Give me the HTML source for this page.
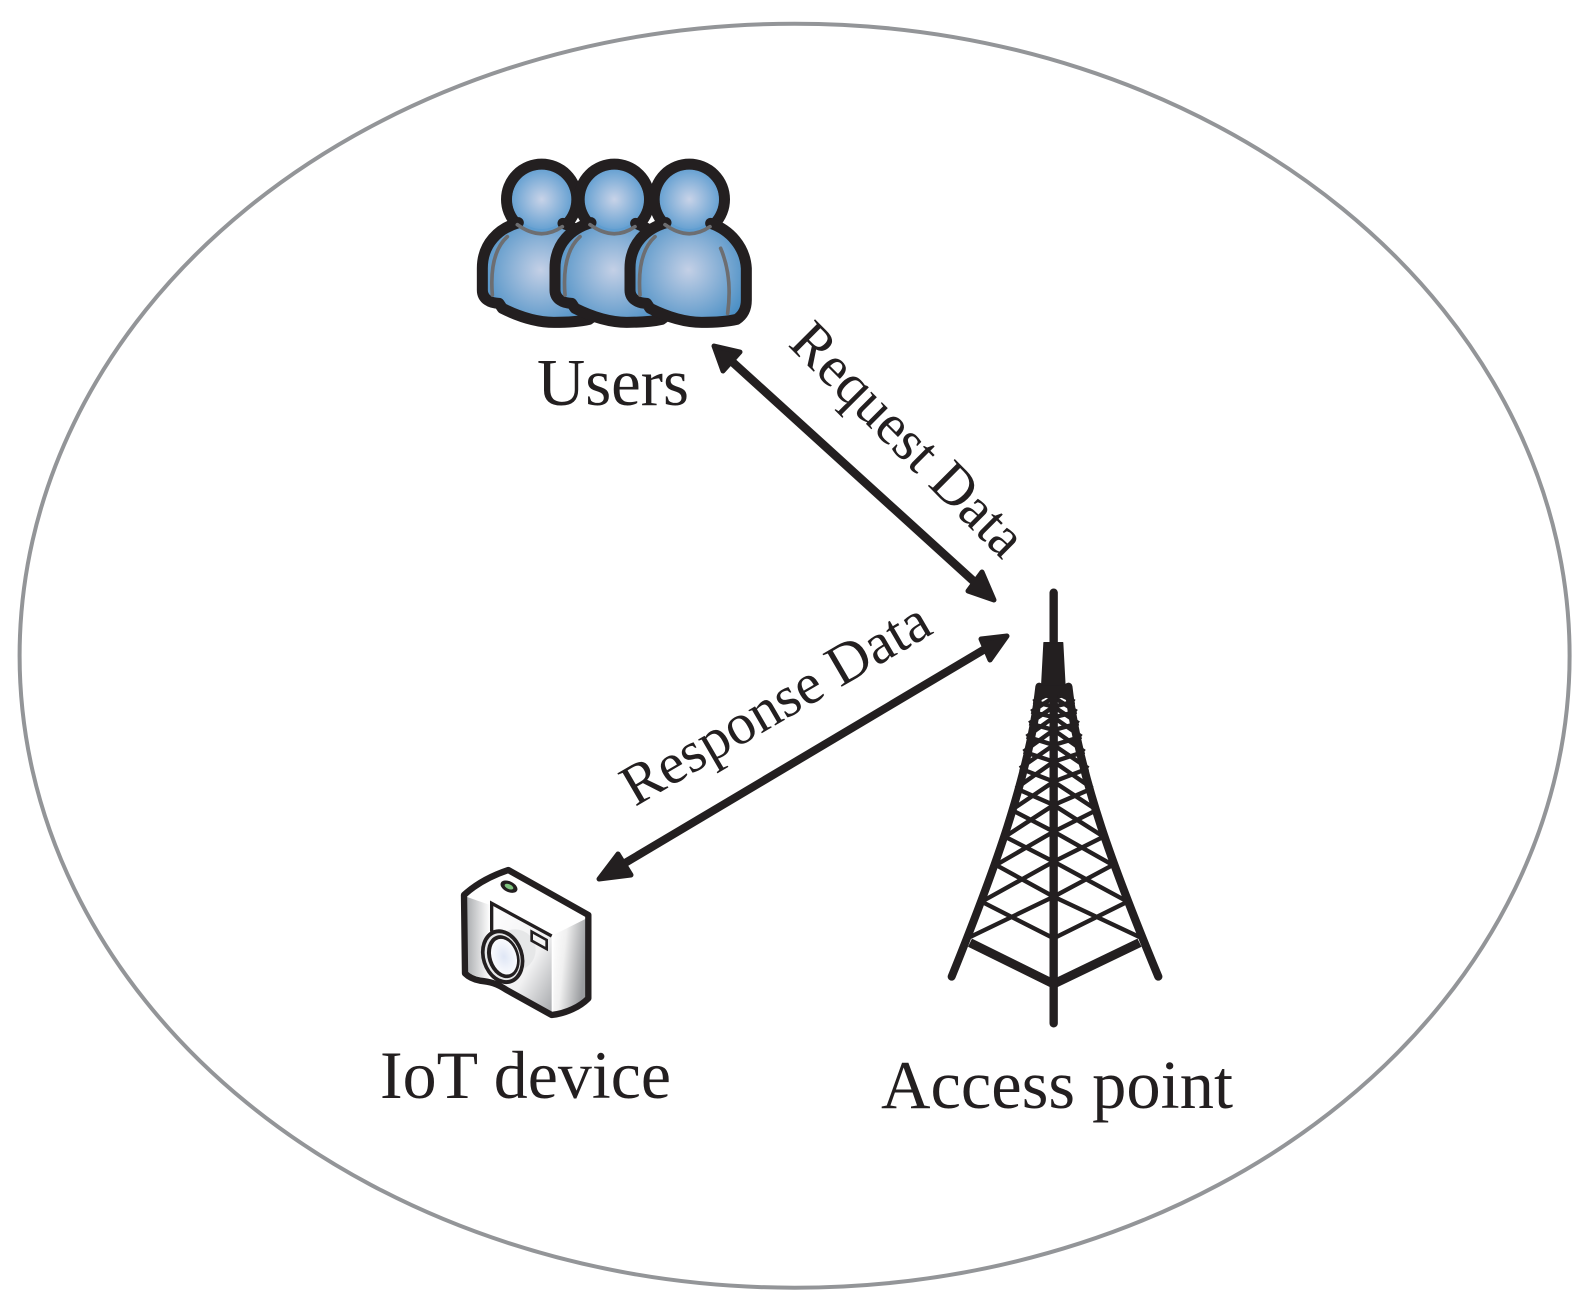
<!DOCTYPE html>
<html><head><meta charset="utf-8">
<style>html,body{margin:0;padding:0;background:#fff}svg{display:block}text{font-family:"Liberation Serif",serif;fill:#231f20}</style>
</head><body>
<svg width="1589" height="1314" viewBox="0 0 1589 1314" xmlns="http://www.w3.org/2000/svg">
<defs>
<radialGradient id="hg" cx="0.5" cy="0.5" r="0.55"><stop offset="0" stop-color="#c8d3e8"/><stop offset="1" stop-color="#5f9dd0"/></radialGradient>
<radialGradient id="bg" gradientUnits="userSpaceOnUse" cx="715" cy="390" r="190"><stop offset="0" stop-color="#c4d0e6"/><stop offset="1" stop-color="#4a8fc5"/></radialGradient>
<linearGradient id="cl" x1="0" x2="1" y1="0" y2="0"><stop offset="0" stop-color="#a9abae"/><stop offset="1" stop-color="#ffffff"/></linearGradient>
<linearGradient id="cr" x1="0" x2="1" y1="0" y2="0.3"><stop offset="0" stop-color="#ffffff"/><stop offset="0.4" stop-color="#f0f0f0"/><stop offset="1" stop-color="#9a9c9f"/></linearGradient>
<linearGradient id="cf" x1="0" x2="1" y1="0" y2="1"><stop offset="0" stop-color="#fff"/><stop offset="0.6" stop-color="#f1f1f2"/><stop offset="1" stop-color="#a7a9ac"/></linearGradient>
<radialGradient id="lens" cx="0.5" cy="0.5" r="0.6"><stop offset="0" stop-color="#dfe6f5"/><stop offset="1" stop-color="#ffffff"/></radialGradient>
<g id="person">
<circle cx="718" cy="178" r="105" fill="none" stroke="#231f20" stroke-width="34"/>
<ellipse cx="714" cy="262" rx="68" ry="20" fill="#5f9dd0"/>
<circle cx="718" cy="178" r="89" fill="url(#hg)"/>
<path d="M645,252 Q715,305 780,258 C840,280 889,320 889,385 L889,480 C889,505 880,525 860,538 C830,545 800,547 755,547 C700,547 650,530 600,505 L590,490 C565,490 540,478 540,450 L540,385 C540,310 590,270 645,252 Z" fill="url(#bg)"/>
<path d="M648,248 C590,265 540,310 540,385 L540,450 C540,478 565,490 590,490 L600,505 C650,530 700,547 755,547 C800,547 830,545 860,538 C880,525 889,505 889,480 L889,385 C885,320 840,270 782,250" fill="none" stroke="#231f20" stroke-width="33" stroke-linejoin="round" stroke-linecap="round"/>
<path d="M645,254 Q715,305 780,260" fill="none" stroke="#6d6e71" stroke-width="11" stroke-linecap="round"/>
<path d="M615,290 Q560,340 570,465" fill="none" stroke="#6d6e71" stroke-width="11" stroke-linecap="round"/>
</g>
<g id="face" fill="none" stroke="#231f20" stroke-linecap="butt">
<g stroke-width="13">
<path d="M112,1075L371,950M155,965L371,1075"/>
<path d="M155,965L371,845M198,855L371,950"/>
<path d="M198,855L371,755M225,770L371,845"/>
</g>
<g stroke-width="13">
<path d="M225,770L371,675M245,690L371,755"/>
<path d="M245,690L371,605M258,625L371,675"/>
<path d="M258,625L371,545M270,565L371,605"/>
<path d="M270,565L371,495M281,515L371,545"/>
</g>
<g stroke-width="13">
<path d="M281,515L371,450M290,470L371,495"/>
<path d="M290,470L371,412M298,430L371,450"/>
<path d="M298,430L371,380M304,395L371,412"/>
<path d="M304,395L371,352M310,365L371,380"/>
<path d="M310,365L371,335M318,340L371,352"/>
</g>
<path d="M328,320C298,590 190,880 65,1190" stroke-width="24" stroke-linecap="round"/>
<path d="M120,1088L371,1212" stroke-width="27"/>
</g>
</defs>

<rect width="1589" height="1314" fill="#fff"/>
<ellipse cx="794.6" cy="655.7" rx="775" ry="632" fill="none" stroke="#939598" stroke-width="4"/>

<!-- users -->
<g transform="translate(450,140) scale(0.33333)">
<use href="#person" transform="translate(-443,0)"/>
<use href="#person" transform="translate(-225,0)"/>
<use href="#person"/>
<path d="M812,325 Q848,410 833,520" fill="none" stroke="#6d6e71" stroke-width="11" stroke-linecap="round"/>
</g>

<!-- camera -->
<g transform="translate(440,850) scale(0.33333)">
<path d="M72,135 C110,100 160,75 205,60 L445,195 L445,445 C420,470 380,490 335,495 L150,395 L75,370 Z" fill="#fff"/>
<path d="M78,140 L150,165 L150,392 L78,368 Z" fill="url(#cl)"/>
<path d="M340,255 L440,205 L440,445 C420,465 380,485 340,490 Z" fill="url(#cr)"/>
<path d="M155,165 L335,258 L335,490 L155,395 Z" fill="url(#cf)"/>
<circle cx="225" cy="300" r="62" fill="#e6e7e8"/>
<path d="M72,135 C110,100 160,75 205,60 L445,195 L445,445 C420,470 380,490 335,495 L200,420 C170,400 150,395 120,392 C100,388 85,380 75,370 Z" fill="none" stroke="#231f20" stroke-width="19" stroke-linejoin="round"/>
<path d="M155,245 L155,160 L335,258" fill="none" stroke="#231f20" stroke-width="10"/>
<polygon points="275,245 320,270 320,297 275,272" fill="#f4f4f4" stroke="#231f20" stroke-width="8"/>
<ellipse cx="207" cy="110" rx="27" ry="16" transform="rotate(25 207 110)" fill="#231f20"/>
<ellipse cx="207" cy="110" rx="14" ry="7" transform="rotate(25 207 110)" fill="#7fc47f"/>
<ellipse cx="188" cy="320" rx="63" ry="84" transform="rotate(-18 188 320)" fill="#231f20"/>
<ellipse cx="188" cy="320" rx="52" ry="72" transform="rotate(-18 188 320)" fill="#e6e7e8"/>
<ellipse cx="190" cy="320" rx="47" ry="66" transform="rotate(-18 190 320)" fill="#231f20"/>
<ellipse cx="192" cy="320" rx="37" ry="55" transform="rotate(-18 192 320)" fill="url(#lens)"/>
</g>

<!-- tower -->
<g transform="translate(930,580) scale(0.33333)">
<use href="#face"/>
<use href="#face" transform="translate(371,0) scale(-1.026,1) translate(-371,0)"/>
<line x1="371" y1="38" x2="371" y2="1330" stroke="#231f20" stroke-width="25" stroke-linecap="round"/>
<polygon points="342,188 398,188 405,318 335,318" fill="#231f20" stroke="#231f20" stroke-width="4" stroke-linejoin="round"/>
<polygon points="320,316 422,316 424,345 318,345" fill="#231f20"/>
</g>

<!-- arrows -->
<g stroke="#231f20" fill="#231f20" stroke-linejoin="round">
<line x1="728" y1="358" x2="980" y2="587" stroke-width="8.5"/>
<polygon points="714,346 723,371 740,352" stroke-width="5"/>
<polygon points="994,600 968,591 982,572" stroke-width="5"/>
<line x1="620" y1="866" x2="985" y2="649" stroke-width="8"/>
<polygon points="1007,636 981,639 990,660" stroke-width="5"/>
<polygon points="599,879 618,854 631,875" stroke-width="5"/>
</g>

<!-- labels -->
<text x="537" y="405" font-size="67" textLength="152" lengthAdjust="spacingAndGlyphs">Users</text>
<text x="380" y="1098" font-size="67.5" textLength="291" lengthAdjust="spacingAndGlyphs">IoT device</text>
<text x="881" y="1108" font-size="68.5" textLength="352" lengthAdjust="spacingAndGlyphs">Access point</text>
<text transform="translate(787,345) rotate(45)" font-size="58" textLength="305" lengthAdjust="spacingAndGlyphs">Request Data</text>
<text transform="translate(635,807) rotate(-30.2)" font-size="58" textLength="347" lengthAdjust="spacingAndGlyphs">Response Data</text>
</svg>
</body></html>
